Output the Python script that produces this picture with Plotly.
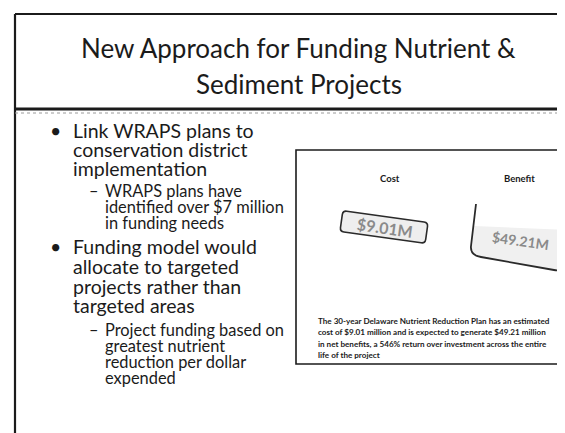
import plotly.graph_objects as go
import math

# ---- content ----
title_lines = ["New Approach for Funding Nutrient &", "Sediment Projects"]
bullet1 = ["Link WRAPS plans to", "conservation district", "implementation"]
sub1 = ["WRAPS plans have", "identified over $7 million", "in funding needs"]
bullet2 = ["Funding model would", "allocate to targeted", "projects rather than", "targeted areas"]
sub2 = ["Project funding based on", "greatest nutrient", "reduction per dollar", "expended"]

categories = ["Cost", "Benefit"]
values_musd = [9.01, 49.21]
footnote = [
    "The 30-year Delaware Nutrient Reduction Plan has an estimated",
    "cost of $9.01 million and is expected to generate $49.21 million",
    "in net benefits, a 546% return over investment across the entire",
    "life of the project",
]

W, H = 565, 433
FONT = "Lato, 'Open Sans', sans-serif"
INK = "#1b1b1b"

fig = go.Figure()
shapes = []
ann = []

def line(x0, y0, x1, y1, w=1.5, color=INK, dash="solid"):
    shapes.append(dict(type="line", xref="x", yref="y", x0=x0, y0=y0, x1=x1, y1=y1,
                       line=dict(color=color, width=w, dash=dash)))

# outer slide frame
line(7, 6, 565, 6, 2)
line(7, 6, 7, 430, 2.2)
line(7, 429.5, 195, 429.5, 1.8)
line(195, 429.5, 245, 429.5, 1, "#777", "dot")
# title separator (thick, with scan speckle below)
line(7, 101, 565, 101, 3)
line(7, 105, 565, 105, 1, "#9a9a9a", "dot")

# title
for t, ty in zip(title_lines, [40, 76]):
    ann.append(dict(x=W / 2 + 8, y=ty, xref="x", yref="y", text=t,
                    showarrow=False, xanchor="center", yanchor="middle",
                    font=dict(family=FONT, size=26, color=INK)))

def add_lines(lines, ys, x, size, marker=None, mx=None):
    for i, (t, y) in enumerate(zip(lines, ys)):
        ann.append(dict(x=x, y=y, xref="x", yref="y", text=t, showarrow=False,
                        xanchor="left", yanchor="middle",
                        font=dict(family=FONT, size=size, color=INK)))
        if i == 0 and marker:
            ann.append(dict(x=mx, y=y, xref="x", yref="y", text=marker, showarrow=False,
                            xanchor="left", yanchor="middle",
                            font=dict(family=FONT, size=size, color=INK)))

add_lines(bullet1, [122, 141, 160], 63, 19.5, "•", 40)
add_lines(sub1, [182, 198, 214], 95, 16.4, "–", 79)
add_lines(bullet2, [238, 258, 278, 297], 63, 19.5, "•", 40)
add_lines(sub2, [321, 337, 353, 369], 95, 16.4, "–", 79)

# inner picture frame
shapes.append(dict(type="rect", xref="x", yref="y", x0=288, y0=142, x1=562, y1=356,
                   line=dict(color=INK, width=1.6), fillcolor="white"))

# category labels
label_x = [382, 511]
for c, lx in zip(categories, label_x):
    ann.append(dict(x=lx, y=170, xref="x", yref="y", text="<b>%s</b>" % c, showarrow=False,
                    xanchor="center", yanchor="middle",
                    font=dict(family=FONT, size=9.5, color=INK)))

def rot(px, py, cx, cy, a):
    r = math.radians(a)
    dx, dy = px - cx, py - cy
    return cx + dx * math.cos(r) - dy * math.sin(r), cy + dx * math.sin(r) + dy * math.cos(r)

# cost stamp (rotated rounded rectangle)
cx, cy, w, h, ang, rr = 376, 219, 86, 21, 8, 4
corners = [(-w/2 + rr, -h/2), (w/2 - rr, -h/2), (w/2, -h/2 + rr), (w/2, h/2 - rr),
           (w/2 - rr, h/2), (-w/2 + rr, h/2), (-w/2, h/2 - rr), (-w/2, -h/2 + rr)]
ctrl = [(w/2, -h/2), (w/2, h/2), (-w/2, h/2), (-w/2, -h/2)]
P = [rot(cx + a, cy + b, cx, cy, ang) for a, b in corners]
C = [rot(cx + a, cy + b, cx, cy, ang) for a, b in ctrl]
path = "M %.1f,%.1f L %.1f,%.1f Q %.1f,%.1f %.1f,%.1f L %.1f,%.1f Q %.1f,%.1f %.1f,%.1f L %.1f,%.1f Q %.1f,%.1f %.1f,%.1f L %.1f,%.1f Q %.1f,%.1f %.1f,%.1f Z" % (
    P[0] + P[1] + C[0] + P[2] + P[3] + C[1] + P[4] + P[5] + C[2] + P[6] + P[7] + C[3] + P[0])
shapes.append(dict(type="path", xref="x", yref="y", path=path,
                   line=dict(color="#2a2a2a", width=1.6), fillcolor="#eeeeee"))

# benefit container (open top)
shapes.append(dict(type="path", xref="x", yref="y",
                   path="M 466,218 L 463,238 Q 462,247 473,249 L 546,262 Q 556,264 557,254 L 559,222 Z",
                   line=dict(width=0), fillcolor="#f0f0f0"))
bpath = "M 468,196 L 463,238 Q 462,247 473,249 L 546,262 Q 556,264 557,254 L 560,207"
shapes.append(dict(type="path", xref="x", yref="y", path=bpath,
                   line=dict(color="#2a2a2a", width=1.8), fillcolor="rgba(0,0,0,0)"))

stamp_pos = [(377, 219, 16), (512, 232, 14)]
for v, (sx, sy, fs) in zip(values_musd, stamp_pos):
    ann.append(dict(x=sx, y=sy, xref="x", yref="y", text="<b>$%.2fM</b>" % v, showarrow=False,
                    xanchor="center", yanchor="middle", textangle=8,
                    font=dict(family=FONT, size=fs, color="#8a8a8a")))

# footnote
for i, t in enumerate(footnote):
    ann.append(dict(x=308, y=313 + i * 11.3, xref="x", yref="y", text="<b>%s</b>" % t,
                    showarrow=False, xanchor="left", yanchor="middle",
                    font=dict(family=FONT, size=8.1, color=INK)))

fig.update_layout(
    width=W, height=H, margin=dict(l=0, r=0, t=0, b=0),
    paper_bgcolor="white", plot_bgcolor="white",
    xaxis=dict(range=[0, W], visible=False, fixedrange=True),
    yaxis=dict(range=[H, 0], visible=False, fixedrange=True),
    shapes=shapes, annotations=ann, showlegend=False,
)
fig.write_html("out.html", config={"displayModeBar": False})
